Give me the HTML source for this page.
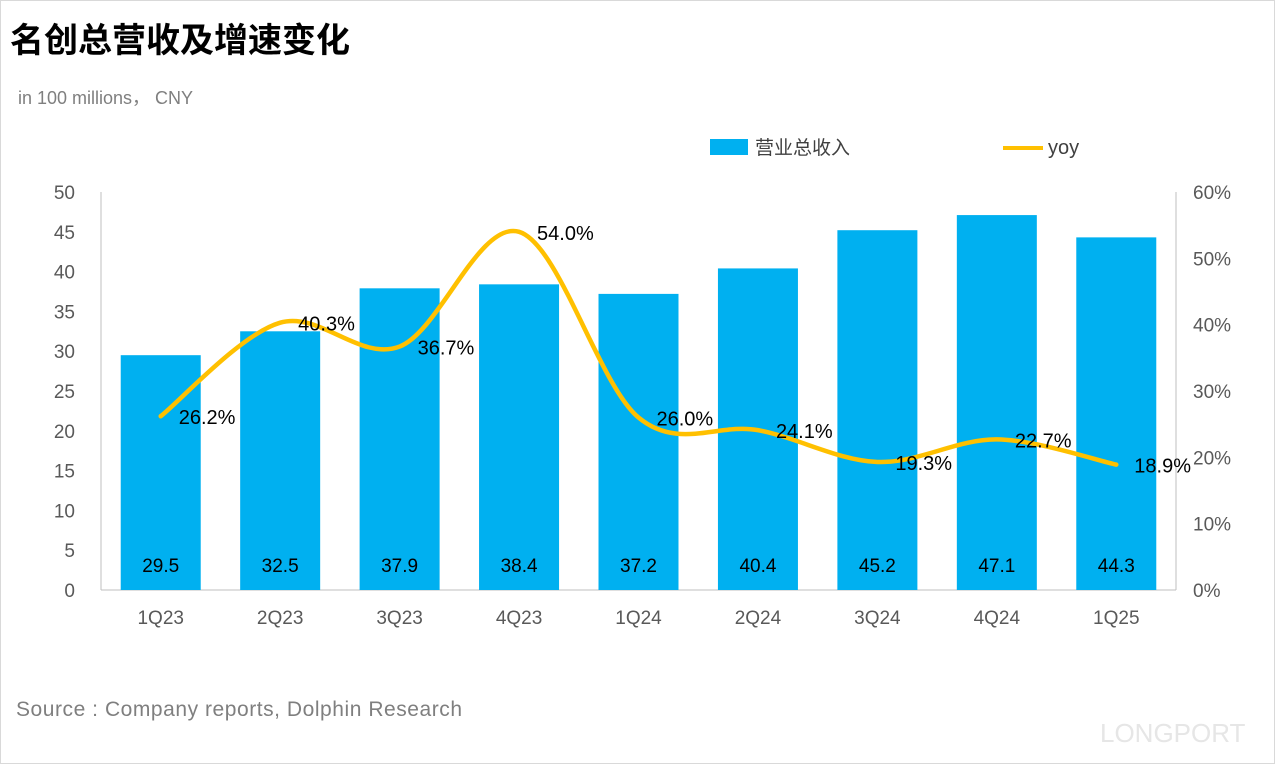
<!DOCTYPE html>
<html><head><meta charset="utf-8"><style>
body{margin:0;background:#fff;width:1275px;height:764px;overflow:hidden;font-family:"Liberation Sans","Noto Sans CJK SC",sans-serif}
</style></head><body>
<svg id="c" width="1275" height="764" xmlns="http://www.w3.org/2000/svg">
<rect x="0.5" y="0.5" width="1274" height="763" fill="#fff" stroke="#d9d9d9"/>
<text x="10" y="52" font-size="34" font-weight="bold" fill="#000" font-family="'Noto Sans CJK SC',sans-serif">名创总营收及增速变化</text>
<text x="18" y="104" font-size="18" fill="#7f7f7f">in 100 millions， CNY</text>
<text x="16" y="716" font-size="21" fill="#7f7f7f" textLength="446">Source : Company reports, Dolphin Research</text>
<text x="1100" y="742" font-size="26" fill="#e6e6e6">LONGPORT</text>
<rect x="710" y="139" width="38" height="16" fill="#00b0f0"/>
<text x="755" y="154" font-size="19" fill="#404040" font-family="'Noto Sans CJK SC',sans-serif">营业总收入</text>
<line x1="1003" y1="148" x2="1043" y2="148" stroke="#ffc000" stroke-width="4"/>
<text x="1048" y="154" font-size="20" fill="#404040">yoy</text>
<g id="g"></g>
</svg>
<script>
const categories=["1Q23","2Q23","3Q23","4Q23","1Q24","2Q24","3Q24","4Q24","1Q25"];
const revenue=[29.5,32.5,37.9,38.4,37.2,40.4,45.2,47.1,44.3];
const yoy=[26.2,40.3,36.7,54.0,26.0,24.1,19.3,22.7,18.9];
const leftTicks=[0,5,10,15,20,25,30,35,40,45,50];
const rightTicks=[0,10,20,30,40,50,60];
const NS="http://www.w3.org/2000/svg";
const g=document.getElementById('g');
const x0=101,x1=1176,y0=590,y1=192;
const bw=(x1-x0)/categories.length;
const xc=i=>x0+bw*(i+0.5);
const yL=v=>y0-(v/50)*(y0-y1);
const yR=v=>y0-(v/60)*(y0-y1);
function el(t,a,txt){const e=document.createElementNS(NS,t);for(const k in a)e.setAttribute(k,a[k]);if(txt!==undefined)e.textContent=txt;g.appendChild(e);return e;}
let ax=el('line',{x1:x0,y1:y0,x2:x1,y2:y0,stroke:'#bfbfbf'});

let ay=el('line',{x1:x0,y1:y1,x2:x0,y2:y0,stroke:'#bfbfbf'});

let ar=el('line',{x1:x1,y1:y1,x2:x1,y2:y0,stroke:'#bfbfbf'});

leftTicks.forEach(v=>{const t=el('text',{x:75,y:yL(v)+7,'font-size':19,fill:'#595959','text-anchor':'end'},String(v));
});
rightTicks.forEach(v=>{const t=el('text',{x:1193,y:yR(v)+7,'font-size':19,fill:'#595959'},v+'%');
});
categories.forEach((c,i)=>{
const b=el('rect',{x:xc(i)-40,y:yL(revenue[i]),width:80,height:y0-yL(revenue[i]),fill:'#00b0f0'});

const v=el('text',{x:xc(i),y:572,'font-size':19,fill:'#000','text-anchor':'middle'},revenue[i].toFixed(1));

const l=el('text',{x:xc(i),y:624,'font-size':19,fill:'#595959','text-anchor':'middle'},c);

});
const pts=yoy.map((v,i)=>[xc(i),yR(v)]);
let d='M'+pts[0][0]+','+pts[0][1];
for(let i=0;i<pts.length-1;i++){const p0=pts[Math.max(0,i-1)],p1=pts[i],p2=pts[i+1],p3=pts[Math.min(pts.length-1,i+2)];
const t=0.5/3*2;
d+=` C${p1[0]+(p2[0]-p0[0])*t/2},${p1[1]+(p2[1]-p0[1])*t/2} ${p2[0]-(p3[0]-p1[0])*t/2},${p2[1]-(p3[1]-p1[1])*t/2} ${p2[0]},${p2[1]}`;}
const line=el('path',{d:d,fill:'none',stroke:'#ffc000','stroke-width':4.5,'stroke-linecap':'round'});

yoy.forEach((v,i)=>{const t=el('text',{x:xc(i)+18,y:yR(v)+8,'font-size':20,fill:'#000'},v.toFixed(1)+'%');
});
</script>
</body></html>
